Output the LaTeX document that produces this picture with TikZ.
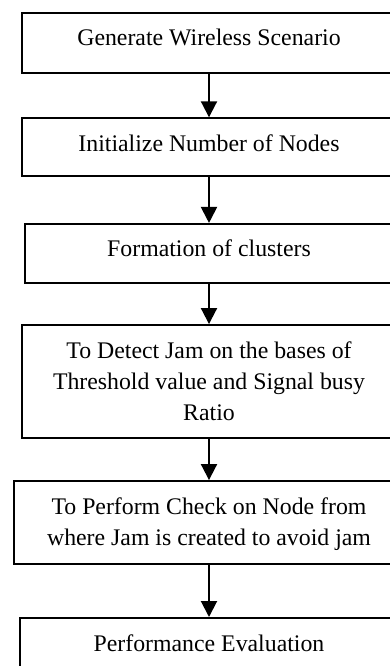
\documentclass[tikz,border=0pt]{standalone}
\usepackage{fontspec}
\setmainfont{Liberation Serif}
\usetikzlibrary{arrows.meta}
\begin{document}
\begin{tikzpicture}[x=1pt,y=-1pt,
  box/.style={draw=black,line width=2pt,inner sep=0pt},
  lbl/.style={align=center,font=\fontsize{23.8}{31}\selectfont,inner sep=0pt,anchor=base},
  arr/.style={line width=2pt,-{Triangle[width=16pt,length=16pt]}}]
\useasboundingbox (0,0) rectangle (390,666);
\fill[white] (0,0) rectangle (390,666);
\begin{scope}
\clip (0,0) rectangle (390,666);
\node[box,minimum width=374pt,minimum height=60pt] (b1) at (209,42.7) {};
\node[box,minimum width=374pt,minimum height=57.4pt] (b2) at (209,147) {};
\node[box,minimum width=367.4pt,minimum height=58.7pt] (b3) at (209,253.3) {};
\node[box,minimum width=374.6pt,minimum height=113.3pt] (b4) at (209,381.7) {};
\node[box,minimum width=389.4pt,minimum height=83.3pt] (b5) at (209,522.7) {};
\node[box,minimum width=378pt,minimum height=60pt] (b6) at (209,648) {};
\node[lbl] (t1) at (209,45.7) {Generate Wireless Scenario};
\node[lbl] (t2) at (209,151.7) {Initialize Number of Nodes};
\node[lbl] (t3) at (209,256.7) {Formation of clusters};
\node[lbl] (t4) at (209,420.5) {To Detect Jam on the bases of\\Threshold value and Signal busy\\Ratio};
\node[lbl] (t5) at (209,545.3) {To Perform Check on Node from\\where Jam is created to avoid jam};
\node[lbl] (t6) at (209,651) {Performance Evaluation};
\draw[arr] (b1.south) -- (b2.north);
\draw[arr] (b2.south) -- (b3.north);
\draw[arr] (b3.south) -- (b4.north);
\draw[arr] (b4.south) -- (b5.north);
\draw[arr] (b5.south) -- (b6.north);
\end{scope}
\end{tikzpicture}
\end{document}
